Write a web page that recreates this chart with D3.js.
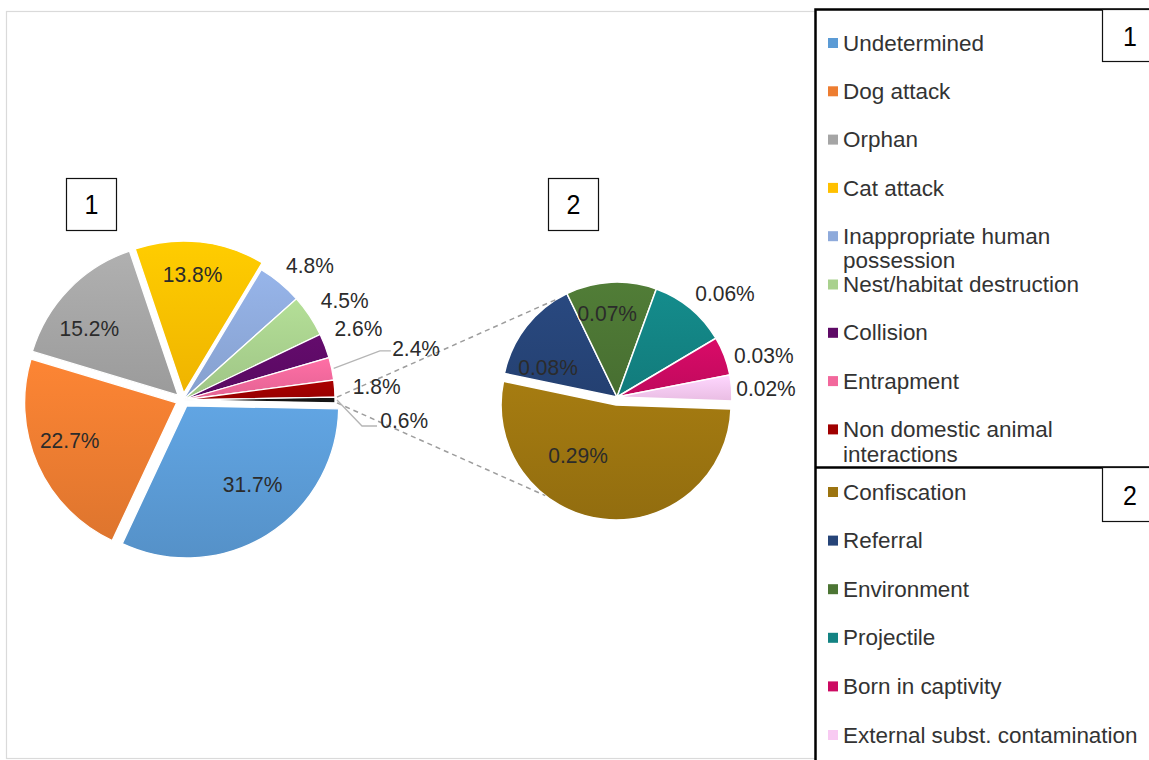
<!DOCTYPE html>
<html>
<head>
<meta charset="utf-8">
<script src="https://cdn.jsdelivr.net/npm/d3@7"></script>
<style>
  body { margin: 0; background: #fff; }
  svg { display: block; font-family: "Liberation Sans", Arial, sans-serif; }
</style>
</head>
<body>
<svg id="chart" width="1149" height="760"></svg>
<script>
// Causes of admission (% of all cases)
const mainCauses = ["Undetermined", "Dog attack", "Orphan", "Cat attack",
  "Inappropriate human possession", "Nest/habitat destruction", "Collision",
  "Entrapment", "Non domestic animal interactions"];
const mainShares = [31.7, 22.7, 15.2, 13.8, 4.8, 4.5, 2.6, 2.4, 1.8];
const mainColors = ["#5b9bd5", "#ed7d31", "#a5a5a5", "#ffc000", "#8eaadb",
  "#a9d18e", "#5e0a66", "#f2689c", "#a00000"];

// Grouped remainder of pie 1, broken down in pie 2
const otherShare = 0.6;
const otherColor = "#151515";

const subCauses = ["Confiscation", "Referral", "Environment", "Projectile",
  "Born in captivity", "External subst. contamination"];
const subShares = [0.29, 0.08, 0.07, 0.06, 0.03, 0.02];
const subColors = ["#9c7410", "#264478", "#4c7534", "#138383", "#cc0a62", "#f8caf2"];

// ---------- layout ----------
const svg = d3.select("#chart");
const defs = svg.append("defs");
const TEXT = "#2b2b2b";

function label(parent, x, y, str, size, anchor = "middle", fill = TEXT, sy = 1.08, sx = 1) {
  return parent.append("text")
    .attr("transform", `translate(${x},${y}) scale(${sx},${sy})`)
    .attr("dy", "0.35em")
    .attr("text-anchor", anchor)
    .attr("font-size", size)
    .attr("fill", fill)
    .text(str);
}

let gradId = 0;
function shade(color) {
  const id = "g" + (gradId++);
  const lg = defs.append("linearGradient").attr("id", id)
    .attr("x1", 0).attr("y1", 0).attr("x2", 0).attr("y2", 1);
  lg.append("stop").attr("offset", "0%").attr("stop-color", d3.color(color).brighter(0.18));
  lg.append("stop").attr("offset", "100%").attr("stop-color", d3.color(color).darker(0.18));
  return `url(#${id})`;
}

const dir = a => [Math.sin(a), -Math.cos(a)];
const deg = Math.PI / 180;

// chart area frame
svg.append("rect").attr("x", 6.5).attr("y", 11.5).attr("width", 809).attr("height", 747)
  .attr("fill", "none").attr("stroke", "#dadada").attr("stroke-width", 1.2);

// ---------- pie 1 ----------
const p1 = { cx: 183, cy: 400, r: 152 };
const p1Values = mainShares.concat([otherShare]);
const p1Colors = mainColors.concat([otherColor]);
const p1Total = d3.sum(p1Values);
const otherSpan = otherShare / p1Total * 2 * Math.PI;
const p1Start = Math.PI / 2 + otherSpan / 2;   // remainder slice centred at 3 o'clock
const pie1 = d3.pie().sort(null).value(d => d)
  .startAngle(p1Start).endAngle(p1Start + 2 * Math.PI)(p1Values);
const arc1 = d3.arc().innerRadius(0).outerRadius(p1.r);
const explode1 = [7, 7, 7, 7, 0, 0, 0, 0, 0, 0];

const g1 = svg.append("g").attr("transform", `translate(${p1.cx},${p1.cy})`);
pie1.forEach((d, i) => {
  const m = (d.startAngle + d.endAngle) / 2;
  const [ux, uy] = dir(m);
  g1.append("path")
    .attr("d", arc1(d))
    .attr("transform", `translate(${ux * explode1[i]},${uy * explode1[i]})`)
    .attr("fill", shade(p1Colors[i]))
    .attr("stroke", "#fff").attr("stroke-width", 1.3);
});

// ---------- pie 2 ----------
const p2 = { cx: 617, cy: 397, r: 115 };
const p2Start = 92 * deg;
const pie2 = d3.pie().sort(null).value(d => d)
  .startAngle(p2Start).endAngle(p2Start + 2 * Math.PI)(subShares);
const arc2 = d3.arc().innerRadius(0).outerRadius(p2.r);
const explode2 = [8, 0, 0, 0, 0, 0];

const g2 = svg.append("g").attr("transform", `translate(${p2.cx},${p2.cy})`);
pie2.forEach((d, i) => {
  const m = (d.startAngle + d.endAngle) / 2;
  const [ux, uy] = dir(m);
  g2.append("path")
    .attr("d", arc2(d))
    .attr("transform", `translate(${ux * explode2[i]},${uy * explode2[i]})`)
    .attr("fill", shade(subColors[i]))
    .attr("stroke", "#fff").attr("stroke-width", 1.5);
});

// ---------- connector lines between the two pies ----------
const other = pie1[pie1.length - 1];
function onPie1(a) { const [x, y] = dir(a); return [p1.cx + x * (p1.r + 2), p1.cy + y * (p1.r + 2)]; }
function onPie2(a, i) {
  const d = pie2[i], m = (d.startAngle + d.endAngle) / 2;
  const [ex, ey] = dir(m), [x, y] = dir(a);
  return [p2.cx + ex * explode2[i] + x * p2.r, p2.cy + ey * explode2[i] + y * p2.r];
}
const conn = [
  [onPie1(other.startAngle), onPie2(328 * deg, 1)],
  [onPie1(other.endAngle), onPie2(218 * deg + 2 * Math.PI, 0)]
];
conn.forEach(([a, b]) => {
  svg.append("line").attr("x1", a[0]).attr("y1", a[1]).attr("x2", b[0]).attr("y2", b[1])
    .attr("stroke", "#9d9d9d").attr("stroke-width", 1.5).attr("stroke-dasharray", "5,4");
});

// ---------- data labels ----------
const fmt1 = v => d3.format(".1f")(v) + "%";
const fmt2 = v => d3.format(".2f")(v) + "%";
const LBL = 21;

// label placement: inside slices for the large shares, outside the rim otherwise
function placeLabels(pie, geo, explode, fmt, insideCount, kIn, gap, nudge, leaders) {
  const layer = svg.append("g");
  pie.forEach((d, i) => {
    const m = (d.startAngle + d.endAngle) / 2;
    const [ux, uy] = dir(m);
    const str = fmt(d.data);
    let x, y;
    if (i < insideCount) {
      const rr = explode[i] + kIn * geo.r;
      x = geo.cx + ux * rr; y = geo.cy + uy * rr;
    } else {
      const w = str.length * 0.6 * LBL - 2, h = LBL;
      const rr = geo.r + gap;
      x = geo.cx + ux * rr + ux * w / 2;
      y = geo.cy + uy * rr + uy * h / 2;
    }
    const nd = nudge[i] || [0, 0];
    x += nd[0]; y += nd[1];
    label(layer, x, y, str, LBL);
    if (leaders[i]) {
      const w = str.length * 0.6 * LBL - 2;
      const s = [geo.cx + ux * (geo.r + 2), geo.cy + uy * (geo.r + 2)];
      const ly = y + leaders[i].dy;
      const pts = [s, [x - w / 2 - leaders[i].elbow, ly], [x - w / 2 - leaders[i].end, ly]];
      layer.insert("path", ":first-child").attr("d", d3.line()(pts))
        .attr("fill", "none").attr("stroke", "#b5b5b5").attr("stroke-width", 1.3);
    }
  });
}

placeLabels(pie1, p1, explode1, fmt1, 4, 0.72, 18,
  { 0: [8, -15], 1: [-7, -7], 2: [-10, 9], 3: [-3, -10], 4: [3, 4], 6: [-6, -8], 7: [43, -15], 9: [27, 20] },
  { 7: { dy: 3, elbow: 12, end: 1 }, 9: { dy: 6, elbow: 18, end: 3 } });

placeLabels(pie2, p2, explode2, fmt2, 3, 0.65, 16,
  { 0: [-29, -24], 1: [-10, 16], 2: [-6, -9], 3: [5, 5], 4: [-4, 9], 5: [-12, 2] },
  {});

// ---------- pie tags ----------
[[66, 178, "1"], [548, 178, "2"]].forEach(([x, y, t]) => {
  svg.append("rect").attr("x", x + 0.5).attr("y", y + 0.5).attr("width", 50).attr("height", 52)
    .attr("fill", "#fff").attr("stroke", "#111").attr("stroke-width", 1.2);
  label(svg, x + 25.5, y + 27, t, 25, "middle", "#000");
});

// ---------- legend ----------
const LEG = 21.5;
const LEG_SX = 1.045;
svg.append("rect").attr("x", 815.5).attr("y", 9.5).attr("width", 345).attr("height", 760)
  .attr("fill", "#fff").attr("stroke", "#000").attr("stroke-width", 2.5);
svg.append("line").attr("x1", 815).attr("x2", 1149).attr("y1", 467.5).attr("y2", 467.5)
  .attr("stroke", "#000").attr("stroke-width", 2.5);

const measure = svg.append("text").attr("font-size", LEG).attr("visibility", "hidden");
function wrap(str, maxW) {
  const words = str.split(" "), lines = [];
  let cur = "";
  words.forEach(w => {
    const test = cur ? cur + " " + w : w;
    measure.text(test);
    if (measure.node().getComputedTextLength() * LEG_SX > maxW && cur) { lines.push(cur); cur = w; }
    else cur = test;
  });
  lines.push(cur);
  return lines;
}

function legend(names, colors, top, step) {
  const lg = svg.append("g");
  names.forEach((n, i) => {
    const cy = top + i * step;
    lg.append("rect").attr("x", 828).attr("y", cy - 5).attr("width", 10).attr("height", 10)
      .attr("fill", colors[i]);
    wrap(n, 300).forEach((line, j) =>
      label(lg, 843, cy + j * 24.5, line, LEG, "start", "#333", 1.02, LEG_SX));
  });
}
legend(mainCauses, mainColors, 43, 48.3);
legend(subCauses, subColors, 492, 48.6);
measure.remove();

[[9.5, 52, "1"], [467.5, 54, "2"]].forEach(([y, h, t]) => {
  svg.append("rect").attr("x", 1102.5).attr("y", y).attr("width", 60).attr("height", h)
    .attr("fill", "#fff").attr("stroke", "#111").attr("stroke-width", 1.2);
  label(svg, 1130, y + h / 2 + 1, t, 25, "middle", "#000");
});
</script>
</body>
</html>
